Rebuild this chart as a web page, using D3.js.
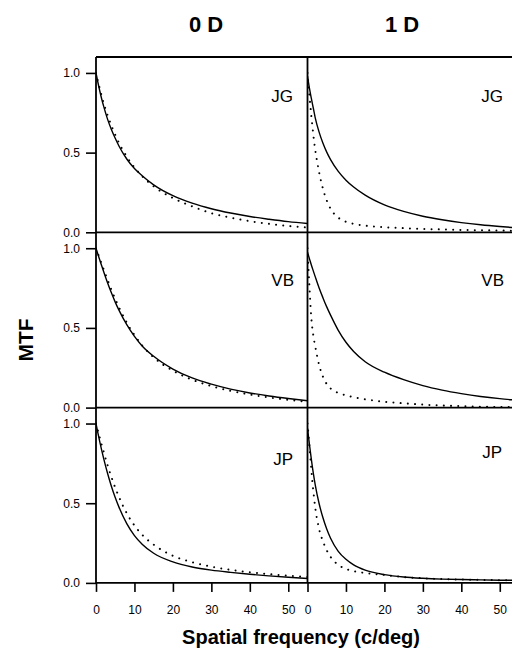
<!DOCTYPE html>
<html><head><meta charset="utf-8">
<script src="https://cdn.jsdelivr.net/npm/d3@7"></script>
<style>
body{margin:0;background:#fff}
svg{display:block}
text{font-family:"Liberation Sans",Arial,Helvetica,sans-serif;fill:#000}
</style>
</head><body>
<svg id="chart" width="512" height="653"></svg>
<script>
// ---------- data ----------
const freq = [0,0.5,1,1.5,2,3,4,5,6,8,10,12,15,20,25,30,35,40,45,50,55];
const subjects = ["JG","VB","JP"];
const defocus = ["0 D","1 D"];
const yTicks = [0, 0.5, 1.0];
const xTicks = [0,10,20,30,40,50];

const jg0Solid  = [1.0,0.94,0.885,0.835,0.79,0.71,0.645,0.59,0.54,0.46,0.40,0.355,0.298,0.23,0.183,0.148,0.121,0.099,0.082,0.067,0.055];
const jg0Dotted = [1.0,0.95,0.90,0.855,0.81,0.735,0.67,0.612,0.56,0.475,0.407,0.352,0.288,0.215,0.163,0.12,0.092,0.07,0.053,0.04,0.03];
const jg1Solid  = [0.98,0.905,0.84,0.78,0.72,0.63,0.56,0.503,0.456,0.382,0.327,0.284,0.233,0.172,0.131,0.101,0.079,0.061,0.047,0.036,0.027];
const jg1Dotted = [1.0,0.86,0.73,0.615,0.52,0.38,0.275,0.20,0.148,0.092,0.066,0.053,0.042,0.032,0.026,0.021,0.018,0.015,0.013,0.011,0.009];

const vb0Solid  = [1.0,0.962,0.925,0.888,0.852,0.783,0.72,0.662,0.61,0.52,0.447,0.387,0.322,0.242,0.186,0.147,0.116,0.092,0.073,0.057,0.043];
const vb0Dotted = [1.0,0.967,0.933,0.90,0.867,0.802,0.74,0.682,0.628,0.533,0.455,0.39,0.315,0.232,0.175,0.135,0.105,0.082,0.064,0.049,0.037];
const vb1Solid  = [0.975,0.935,0.895,0.858,0.822,0.752,0.69,0.632,0.58,0.485,0.41,0.352,0.288,0.222,0.175,0.138,0.11,0.088,0.07,0.056,0.045];
const vb1Dotted = [1.0,0.76,0.56,0.455,0.385,0.27,0.195,0.148,0.12,0.092,0.077,0.065,0.052,0.037,0.027,0.019,0.013,0.009,0.006,0.004,0.003];

const jp0Solid  = [1.0,0.94,0.883,0.83,0.78,0.688,0.607,0.536,0.474,0.372,0.297,0.243,0.186,0.132,0.10,0.08,0.066,0.054,0.044,0.035,0.028];
const jp0Dotted = [1.0,0.955,0.91,0.865,0.822,0.74,0.665,0.598,0.538,0.437,0.36,0.302,0.24,0.17,0.13,0.102,0.082,0.067,0.055,0.045,0.037];
const jp1Solid  = [0.97,0.87,0.775,0.69,0.617,0.50,0.41,0.338,0.28,0.198,0.148,0.113,0.08,0.052,0.037,0.029,0.024,0.021,0.019,0.017,0.016];
const jp1Dotted = [1.0,0.86,0.71,0.58,0.475,0.34,0.262,0.205,0.163,0.113,0.088,0.074,0.062,0.05,0.037,0.029,0.024,0.021,0.019,0.017,0.016];

// panels[row][col] = [solid, dotted]
const panelSeries = [
  [[jg0Solid, jg0Dotted], [jg1Solid, jg1Dotted]],
  [[vb0Solid, vb0Dotted], [vb1Solid, vb1Dotted]],
  [[jp0Solid, jp0Dotted], [jp1Solid, jp1Dotted]]
];

// ---------- layout ----------
const svg = d3.select("#chart");
const L = 96, colW = 211.5, T = 57, rowH = 175.3;
const xScales = [0,1].map(c => d3.scaleLinear().domain([0,55]).range([L + c*colW, L + (c+1)*colW]));
const yScales = [0,1,2].map(r => d3.scaleLinear().domain([0,1.1]).range([T + (r+1)*rowH, T + r*rowH]));
const bottom = T + 3*rowH;

const defs = svg.append("defs");

// curves
subjects.forEach((s, r) => {
  [0,1].forEach(c => {
    const x = xScales[c], y = yScales[r];
    const id = `clip${r}${c}`;
    defs.append("clipPath").attr("id", id).append("rect")
      .attr("x", x.range()[0]).attr("y", y.range()[1])
      .attr("width", x.range()[1]-x.range()[0]).attr("height", y.range()[0]-y.range()[1]);
    const line = d3.line().x((d,i) => x(freq[i])).y(d => y(d)).curve(d3.curveMonotoneX);
    const g = svg.append("g").attr("clip-path", `url(#${id})`);
    const [solid, dotted] = panelSeries[r][c];
    g.append("path").attr("d", line(dotted)).attr("fill","none").attr("stroke","#000")
      .attr("stroke-width", 2).attr("stroke-linecap","round").attr("stroke-dasharray","0.01,7.2");
    g.append("path").attr("d", line(solid)).attr("fill","none").attr("stroke","#000")
      .attr("stroke-width", 1.4);
  });
});

// frame lines
const frame = svg.append("g").attr("stroke","#000").attr("fill","none");
frame.append("line").attr("x1", L).attr("x2", 520).attr("y1", T).attr("y2", T).attr("stroke-width", 1.8);
yScales.forEach(y => {
  frame.append("line").attr("x1", L).attr("x2", 520).attr("y1", y(0)).attr("y2", y(0)).attr("stroke-width", 1.8);
});
frame.append("line").attr("x1", L).attr("x2", L).attr("y1", T).attr("y2", bottom).attr("stroke-width", 1.8);
frame.append("line").attr("x1", L+colW).attr("x2", L+colW).attr("y1", T).attr("y2", bottom).attr("stroke-width", 1.8);

// y axes
yScales.forEach(y => {
  const g = svg.append("g").attr("transform", `translate(${L},0)`)
    .call(d3.axisLeft(y).tickValues(yTicks).tickFormat(d3.format(".1f")).tickSize(10).tickPadding(6));
  g.select(".domain").remove();
  g.selectAll(".tick line").attr("stroke-width", 1.6);
  g.selectAll("text").attr("font-size", 12).attr("font-family", '"Liberation Sans",Arial,sans-serif');
});

// x axes
xScales.forEach(x => {
  const g = svg.append("g").attr("transform", `translate(0,${bottom})`)
    .call(d3.axisBottom(x).tickValues(xTicks).tickSize(9).tickPadding(14));
  g.select(".domain").remove();
  g.selectAll(".tick line").attr("stroke-width", 1.6);
  g.selectAll("text").attr("font-size", 12).attr("font-family", '"Liberation Sans",Arial,sans-serif');
});

// panel labels
const labelPos = [[[293,102],[503,102]],[[294,286],[504,286]],[[293,465],[502,458]]];
subjects.forEach((s, r) => {
  [0,1].forEach(c => {
    svg.append("text").attr("x", labelPos[r][c][0]).attr("y", labelPos[r][c][1])
      .attr("text-anchor","end").attr("font-size", 17).text(s);
  });
});

// column headings
const headX = [206, 402];
defocus.forEach((d, c) => {
  svg.append("text").attr("x", headX[c]).attr("y", 32).attr("text-anchor","middle")
    .attr("font-size", 22).attr("font-weight","bold").text(d);
});

// axis titles
svg.append("text").attr("transform","translate(33,340) rotate(-90)").attr("text-anchor","middle")
  .attr("font-size", 21).attr("font-weight","bold").text("MTF");
svg.append("text").attr("x", 301).attr("y", 644).attr("text-anchor","middle")
  .attr("font-size", 20).attr("font-weight","bold").text("Spatial frequency (c/deg)");
</script>
</body></html>
